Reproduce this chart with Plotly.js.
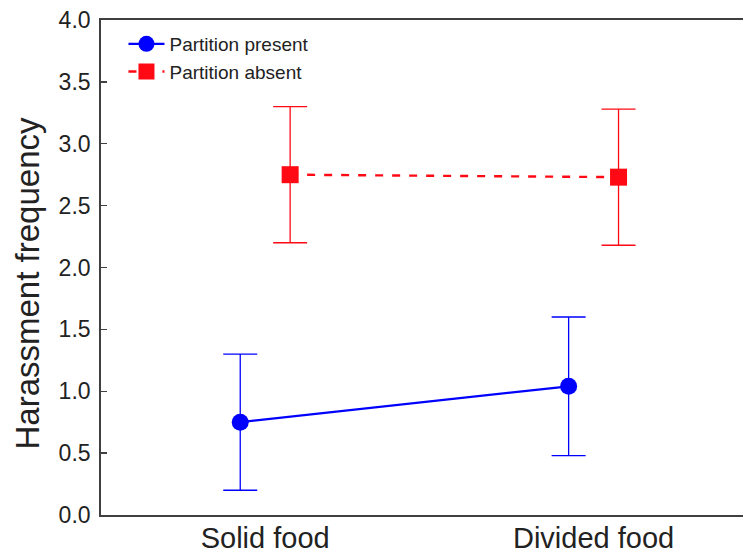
<!DOCTYPE html>
<html>
<head>
<meta charset="utf-8">
<script src="https://cdn.plot.ly/plotly-3.0.1.min.js"></script>
<style>
  html, body { margin: 0; padding: 0; background: #fff; }
  #chart { width: 743px; height: 555px; }
</style>
</head>
<body>
<div id="chart"></div>
<script>
// Feeding condition categories
const categories = ['Solid food', 'Divided food'];

// Partition present: mean harassment frequency and error (±)
const presentMean = [0.75, 1.04];
const presentErr = [0.55, 0.56];

// Partition absent: mean harassment frequency and error (±)
const absentMean = [2.75, 2.73];
const absentErr = [0.55, 0.55];

const yTicks = [0, 0.5, 1, 1.5, 2, 2.5, 3, 3.5, 4];
const yTickText = yTicks.map(v => v.toFixed(1));

const FONT = '"Liberation Sans", Arial, Helvetica, sans-serif';
const BLUE = '#0000ff';
const RED = '#ff0a14';
const INK = '#222222';

const present = {
  type: 'scatter',
  mode: 'lines+markers',
  name: 'Partition present',
  x: categories,
  y: presentMean,
  offsetgroup: 'present',
  line: { color: BLUE, width: 2.2 },
  marker: { color: BLUE, symbol: 'circle', size: 17 },
  error_y: { type: 'data', array: presentErr, visible: true, color: BLUE, thickness: 1.3, width: 17 }
};

const absent = {
  type: 'scatter',
  mode: 'lines+markers',
  name: 'Partition absent',
  x: categories,
  y: absentMean,
  offsetgroup: 'absent',
  line: { color: RED, width: 2.4, dash: '8px,9px' },
  marker: { color: RED, symbol: 'square', size: 17 },
  error_y: { type: 'data', array: absentErr, visible: true, color: RED, thickness: 1.3, width: 17 }
};

const layout = {
  width: 743,
  height: 555,
  margin: { l: 101, r: 0, t: 20, b: 40, pad: 0 },
  paper_bgcolor: '#ffffff',
  plot_bgcolor: '#ffffff',
  font: { family: FONT, color: INK },
  scattermode: 'group',
  scattergap: 0.696,
  showlegend: true,
  legend: {
    x: 0.035, y: 0.99, xanchor: 'left', yanchor: 'top',
    bgcolor: 'rgba(0,0,0,0)', borderwidth: 0,
    itemwidth: 36,
    font: { family: FONT, size: 19, color: INK },
    tracegroupgap: 0
  },
  xaxis: {
    type: 'category',
    range: [-0.5, 1.455],
    showgrid: false,
    zeroline: false,
    showline: true,
    mirror: true,
    linecolor: '#404040',
    linewidth: 1.8,
    ticks: '',
    ticklabelstandoff: -4,
    tickfont: { family: FONT, size: 29, color: INK },
    fixedrange: true
  },
  yaxis: {
    range: [0, 4],
    tickvals: yTicks,
    ticktext: yTickText,
    showgrid: false,
    zeroline: false,
    showline: true,
    mirror: false,
    linecolor: '#404040',
    linewidth: 1.8,
    ticks: 'inside',
    ticklen: 6,
    tickwidth: 1.3,
    tickcolor: '#404040',
    ticklabelstandoff: 4,
    tickfont: { family: FONT, size: 23, color: INK },
    fixedrange: true
  },
  annotations: [{
    text: 'Harassment frequency',
    textangle: -90,
    xref: 'paper', yref: 'paper',
    x: (27 - 101) / 642, y: (515 - 283.5) / 495,
    xanchor: 'center', yanchor: 'middle',
    showarrow: false,
    font: { family: FONT, size: 33, color: INK }
  }]
};

Plotly.newPlot('chart', [present, absent], layout, { displayModeBar: false, staticPlot: true });
</script>
</body>
</html>
